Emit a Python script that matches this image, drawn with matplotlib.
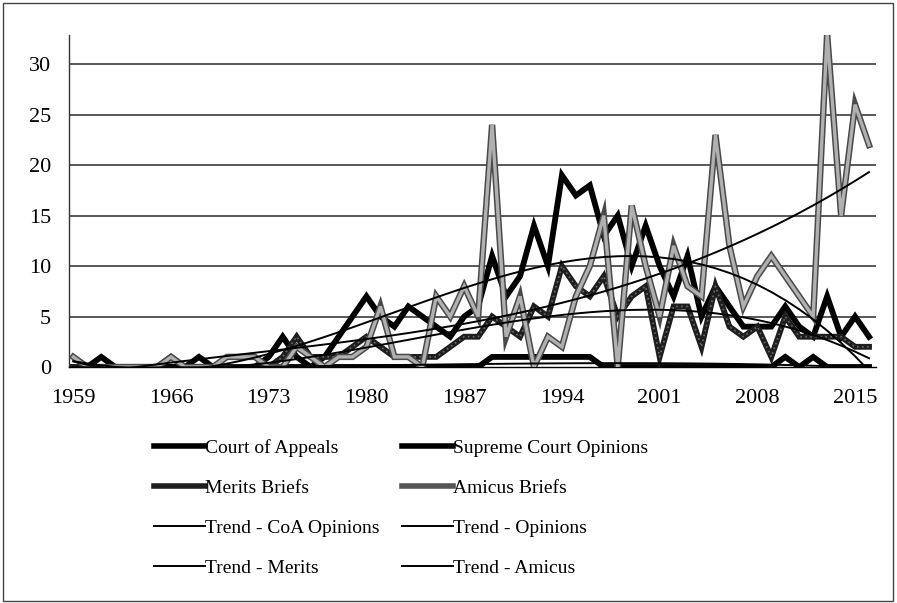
import numpy as np
import matplotlib
matplotlib.use("Agg")
import matplotlib.pyplot as plt
from matplotlib.lines import Line2D
from matplotlib.patches import Rectangle

years = list(range(1959, 2017))

court_of_appeals = [0, 0, 1, 0, 0, 0, 0, 0, 0, 1, 0, 0, 0, 0,
                    1, 3, 1, 0, 1, 3, 5, 7, 5, 4, 6, 5, 4, 3, 5, 6,
                    11, 7, 9, 14, 10, 19, 17, 18, 13, 15, 10, 14, 10, 7,
                    11, 5, 8, 6, 4, 4, 4, 6, 4, 3, 7, 3, 5, 3]
supreme_court = [0, 0, 0, 0, 0, 0, 0, 0, 0, 0, 0, 0, 0, 0,
                 0, 0, 0, 0, 0, 0, 0, 0, 0, 0, 0, 0, 0, 0, 0, 0,
                 1, 1, 1, 1, 1, 1, 1, 1, 0, 0, 0, 0, 0, 0,
                 0, 0, 0, 0, 0, 0, 0, 1, 0, 1, 0, 0, 0, 0]
merits_briefs = [0, 0, 0, 0, 0, 0, 0, 1, 0, 0, 0, 0, 0, 0,
                 0, 1, 3, 1, 1, 1, 2, 3, 2, 1, 1, 1, 1, 2, 3, 3,
                 5, 4, 3, 6, 5, 10, 8, 7, 9, 5, 7, 8, 1, 6,
                 6, 2, 8, 4, 3, 4, 1, 5, 3, 3, 3, 3, 2, 2]
amicus_briefs = [1, 0, 0, 0, 0, 0, 0, 1, 0, 0, 0, 1, 1, 1,
                 0, 0, 2, 1, 0, 1, 1, 2, 6, 1, 1, 0, 7, 5, 8, 5,
                 24, 3, 7, 0, 3, 2, 7, 10, 15, 0, 16, 10, 5, 12,
                 8, 7, 23, 12, 6, 9, 11, 9, 7, 5, 33, 15, 26, 22]

tick_years = [1959, 1966, 1973, 1980, 1987, 1994, 2001, 2008, 2015]
y_ticks = [0, 5, 10, 15, 20, 25, 30]

labels = ["Court of Appeals", "Supreme Court Opinions", "Merits Briefs", "Amicus Briefs",
          "Trend - CoA Opinions", "Trend - Opinions", "Trend - Merits", "Trend - Amicus"]

serif = ["Liberation Serif", "DejaVu Serif"]
plt.rcParams['font.family'] = serif

fig = plt.figure(figsize=(8.97, 6.03), dpi=100)
ax = fig.add_axes([69/897, 1-367/603, (876-69)/897, (367-35)/603])

x = np.array(years, dtype=float)
idx = np.arange(1, len(years) + 1, dtype=float)

def trend(vals):
    c = np.polyfit(idx, np.array(vals, dtype=float), 3)
    return np.polyval(c, idx)

# grid
for v in y_ticks[1:]:
    ax.axhline(v, color='#2b2b2b', lw=1.1, zorder=1)

lw = 4.2
ax.plot(x, court_of_appeals, color='black', lw=lw, zorder=3, solid_joinstyle='miter')
ax.plot(x, supreme_court, color='black', lw=lw, zorder=3, solid_joinstyle='miter')
ax.plot(x, merits_briefs, color='#1e1e1e', lw=lw, zorder=3, solid_joinstyle='miter')
ax.plot(x, merits_briefs, color='#6a6a6a', lw=1.2, zorder=3, ls=(0, (1, 2)))
ax.plot(x, amicus_briefs, color='#4a4a4a', lw=lw + 0.4, zorder=3, solid_joinstyle='miter')
ax.plot(x, amicus_briefs, color='#b0b0b0', lw=2.4, zorder=3, solid_joinstyle='miter')

for vals in (court_of_appeals, supreme_court, merits_briefs, amicus_briefs):
    ax.plot(x, trend(vals), color='black', lw=1.4, zorder=4)

ax.set_xlim(1958.69, 2016.5)
ax.set_ylim(0, 32.9)
ax.set_xticks(tick_years)
ax.set_xticklabels([str(t) for t in tick_years])
ax.set_yticks(y_ticks)
ax.tick_params(axis='both', length=0, labelsize=16)
ax.tick_params(axis='x', pad=16)
ax.tick_params(axis='y', pad=13)
for s in ('top', 'right'):
    ax.spines[s].set_visible(False)
ax.spines['left'].set_color('#333333')
ax.spines['left'].set_linewidth(1.0)
ax.spines['bottom'].set_color('black')
ax.spines['bottom'].set_linewidth(1.0)

h_coa = Line2D([], [], color='black', lw=4)
h_sc = Line2D([], [], color='black', lw=4)
h_mer = Line2D([], [], color='#1e1e1e', lw=4)
h_ami = Line2D([], [], color='#555555', lw=4)
h_t = [Line2D([], [], color='black', lw=1.4) for _ in range(4)]
handles = [h_coa, h_mer, h_t[0], h_t[2], h_sc, h_ami, h_t[1], h_t[3]]
labs = [labels[0], labels[2], labels[4], labels[6], labels[1], labels[3], labels[5], labels[7]]
fig.legend(handles, labs, loc='upper left', bbox_to_anchor=(154/897, 1-439/603), ncol=2,
           frameon=False, fontsize=14, handlelength=2.6, handletextpad=0.0,
           columnspacing=1.2, labelspacing=1.15, borderpad=0, borderaxespad=0)

fig.patches.append(Rectangle((3/897, 2/603), 890/897, 598/603, transform=fig.transFigure,
                             fill=False, edgecolor='#444444', lw=1.0))

fig.savefig("out.png", dpi=100)
